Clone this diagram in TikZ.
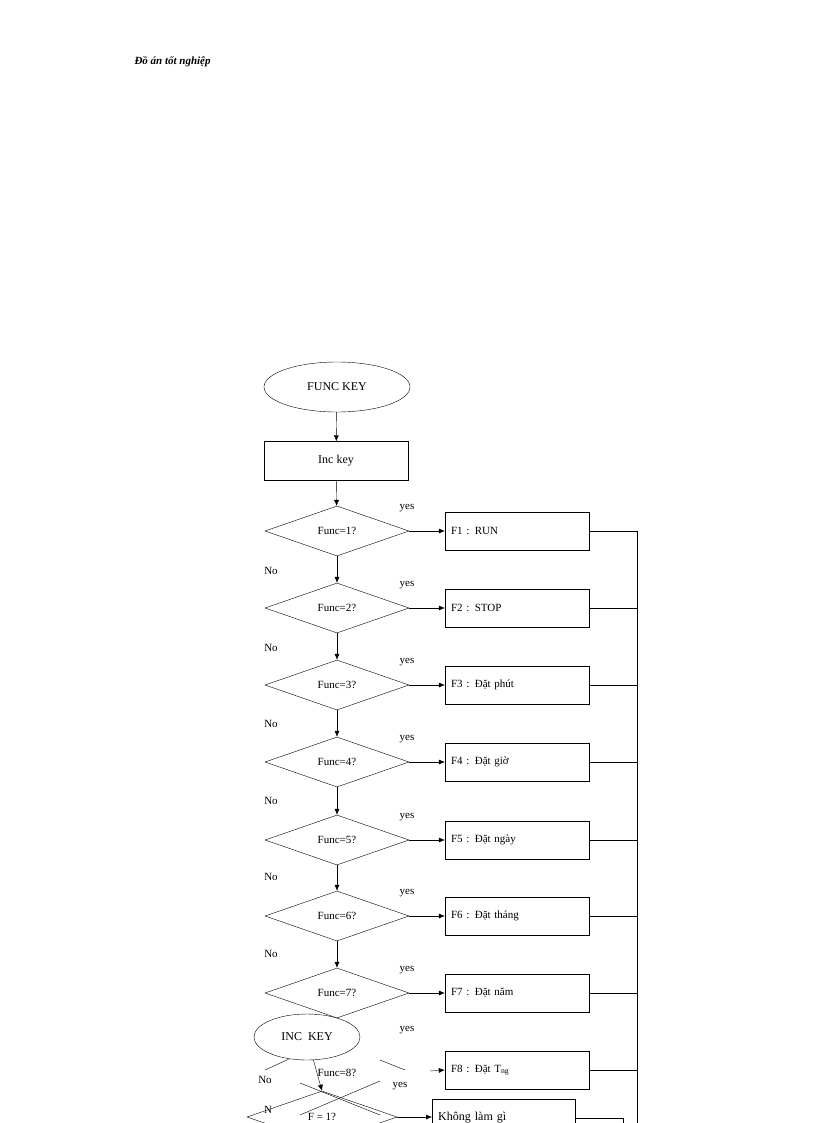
\documentclass[tikz,border=0pt]{standalone}
\usepackage{fontspec}
\setmainfont{Liberation Serif}
\usetikzlibrary{shapes.geometric,arrows.meta}
\begin{document}
\begin{tikzpicture}[x=1pt,y=-1pt,
  dia/.style={diamond,draw,aspect=2.9,minimum width=144pt,minimum height=50pt,inner sep=0pt,font=\fontsize{11}{12}\selectfont},
  fbox/.style={draw,minimum width=144pt,minimum height=38pt,anchor=center,align=left,text width=132pt,font=\fontsize{11}{12}\selectfont},
  lab/.style={font=\fontsize{11}{12}\selectfont},
  arr/.style={-{Latex[length=6pt,width=5pt]}}]
\useasboundingbox (0,0) rectangle (816,1123);
\clip (0,0) rectangle (816,1123);
\node[anchor=west,font=\bfseries\itshape\fontsize{11}{12}\selectfont] (hdr) at (131,62) {Đồ án tốt nghiệp};
\node[ellipse,draw,minimum width=146pt,minimum height=50pt,font=\fontsize{12}{13}\selectfont] (start) at (337,387) {FUNC KEY};
\node[draw,minimum width=144pt,minimum height=39pt,font=\fontsize{12}{13}\selectfont] (inc) at (336,461) {Inc key};
\draw[arr] (start) -- (inc);
\foreach \i/\y/\t in {1/531/F1 : RUN,2/608/F2 : STOP,3/685/F3 : Đặt phút,4/762/F4 : Đặt giờ,5/840/F5 : Đặt ngày,6/916/F6 : Đặt tháng,7/993/F7 : Đặt năm}{
  \node[dia] (d\i) at (337,\y) {Func=\i?};
  \node[fbox] (b\i) at (517,\y) {\t};
  \draw[arr] (d\i.east) -- (b\i.west);
  \draw (b\i.east) -- (637,\y);
  \node[lab] (y\i) at (407,{\y-23}) {yes};
}
\foreach \i/\y in {2/571,3/648,4/724,5/801,6/877,7/954}{\node[lab] (n\i) at (271,\y) {No};}
\draw[arr] (inc) -- (d1);
\foreach \a/\b in {1/2,2/3,3/4,4/5,5/6,6/7}{\draw[arr] (d\a) -- (d\b);}
\node[lab] (y8) at (407,1030) {yes};
% func=8 fragments
\node[lab] (f8t) at (337,1073) {Func=8?};
\coordinate (d8t) at (337,1045);
\draw (d7.south) -- (d8t);
\draw (265,1070) -- (289,1059);
\draw (380,1060) -- (405,1070);
\node[fbox] (b8) at (517,1070) {F8 : Đặt T\textsubscript{ng}};
\coordinate (a8) at (430,1071);
\draw[arr] (a8) -- (b8.west);
\draw (b8.east) -- (637,1070);
\draw (637,531) -- (637,1123);
\node[lab] (n8) at (265,1080) {No};
% inc key overlay
\node[ellipse,draw,fill=white,minimum width=106pt,minimum height=46pt,font=\fontsize{12}{13}\selectfont] (inck) at (307,1037) {INC\ \ KEY};
\node[diamond,draw,aspect=2.9,minimum width=150pt,minimum height=52pt,inner sep=0pt,font=\fontsize{11}{12}\selectfont] (f1) at (322,1117) {F = 1?};
\draw[arr] (inck) -- (f1.north);
\draw (300,1083) -- (380,1115);
\draw (380,1081) -- (300,1115);
\node[lab] (y9) at (400,1086) {yes};
\node[lab] (n9) at (268,1110) {N};
\node[draw,minimum width=143pt,minimum height=36pt,anchor=north west,align=left,text width=131pt,font=\fontsize{12}{13}\selectfont] (knl) at (432,1099) {Không làm gì};
\draw[arr] (f1.east) -- (knl.west |- f1.east);
\draw (knl.east |- 0,1118) -- (623,1118) -- (623,1123);
\end{tikzpicture}
\end{document}
